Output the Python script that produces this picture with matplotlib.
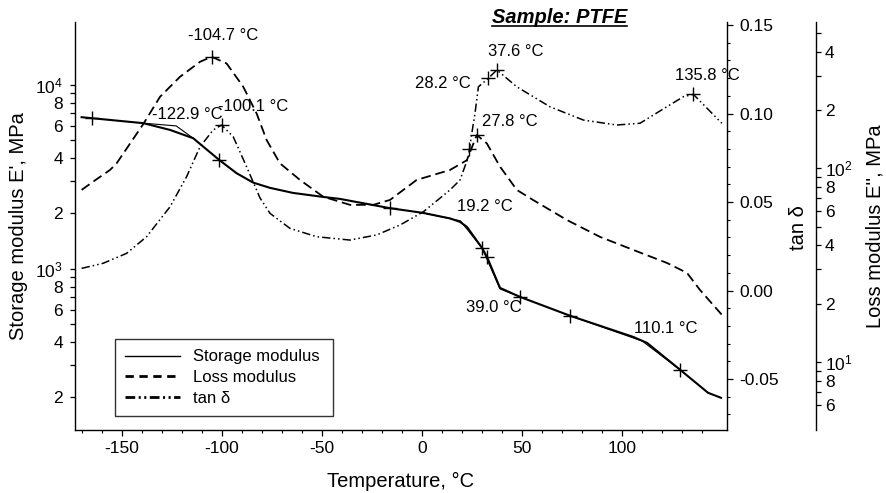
import numpy as np
import matplotlib
matplotlib.use('Agg')
import matplotlib.pyplot as plt
from matplotlib.lines import Line2D
from matplotlib.ticker import FixedLocator, FuncFormatter, MultipleLocator, NullFormatter, FormatStrFormatter

plt.rcParams['font.family'] = ['Liberation Sans', 'DejaVu Sans']
plt.rcParams['mathtext.fontset'] = 'custom'
plt.rcParams['mathtext.rm'] = 'Liberation Sans'
plt.rcParams['mathtext.default'] = 'regular'
plt.rcParams['lines.scale_dashes'] = False
plt.rcParams['axes.unicode_minus'] = False

# === DATA ===
storage_temp = [-170.2, -164.9, -139.4, -126, -114.4, -109.4, -101.4, -92.7, -84.4, -76, -64.5,
                -49.5, -41, -16, 0.5, 14, 19, 22.5, 30, 32.5, 39, 49, 74, 105.5, 112.5, 129, 143, 149.5]
storage_mod = [6675, 6590, 6195, 5693, 5130, 4620, 3910, 3310, 2943, 2756, 2587,
               2461, 2400, 2137, 2015, 1880, 1800, 1690, 1300, 1161, 788, 704, 556, 427, 396, 283, 212, 199]
storage_mark_temp = [-164.9, -101.4, -16, 30, 32.5, 49, 74, 129]
storage_mark_mod = [6590, 3910, 2137, 1300, 1161, 704, 556, 283]

# onset tangent constructions (thin lines)
onset_temp = [[-139.4, -122.9, -114.4], [0.5, 19.2, 30], [30, 39.0, 49], [74, 110.1, 129]]
onset_mod = [[6195, 5985, 5130], [2015, 1824, 1300], [1300, 778, 704], [556, 405, 283]]

loss_temp = [-170.2, -164.4, -156, -152.7, -139.4, -131, -121, -111, -105.2, -97.7, -89.4, -82.7,
             -77.7, -71, -61, -49.4, -36, -24.4, -16, -2.7, 14, 22.4, 27.4, 32.4, 39, 47.4, 55.5,
             72.5, 89, 105.5, 122.5, 132.5, 139, 149.9]
loss_mod = [77.3, 85.3, 98, 106, 169, 234, 297, 355, 377, 348, 264, 192,
            140, 106, 87, 71.3, 64.7, 64.7, 68.6, 87, 98, 110, 148.5, 134.5, 102, 77.3, 68.6,
            54, 44.2, 37.9, 32.4, 28.8, 23.5, 17.5]
loss_mark_temp = [-105.2, 27.4]
loss_mark_mod = [377, 148.5]

tan_temp = [-170.2, -159.4, -147.7, -137.7, -126, -117.7, -111, -104.4, -100.2, -94.4, -87.7, -81,
            -76, -66, -52.7, -36, -22.7, -11, 0.7, 14, 19, 23.2, 24.9, 26.5, 28.2, 33.2, 37.4,
            47.4, 64, 80.7, 97.4, 109, 122.4, 130.7, 135.7, 149.9]
tan_delta = [0.0125, 0.0154, 0.0210, 0.0304, 0.0473, 0.0643, 0.0812, 0.0907, 0.0935, 0.0869, 0.0699, 0.0523,
             0.0436, 0.0351, 0.0304, 0.0285, 0.0314, 0.0370, 0.0445, 0.0568, 0.0624, 0.0756, 0.0888, 0.1001,
             0.1151, 0.1199, 0.1246, 0.1151, 0.1038, 0.0963, 0.0935, 0.0945, 0.1038, 0.1095, 0.1108, 0.0945]
tan_mark_temp = [-100.2, 23.7, 33.2, 37.4, 135.7]
tan_mark_val = [0.0935, 0.0797, 0.1199, 0.1246, 0.1108]

# tick values
temp_ticks = [-150, -100, -50, 0, 50, 100]
temp_minor_ticks = [-170, -160, -140, -130, -120, -110, -90, -80, -70, -60, -40, -30, -20, -10,
                    10, 20, 30, 40, 60, 70, 80, 90, 110, 120, 130, 140]
storage_ticks = [200, 300, 400, 500, 600, 700, 800, 900, 1000, 2000, 3000, 4000, 5000, 6000, 7000, 8000, 9000, 10000]
loss_ticks = [6, 7, 8, 9, 10, 20, 30, 40, 50, 60, 70, 80, 90, 100, 200, 300, 400, 500]

# annotations: label value, which axis, anchor (T, value), offset in px (right, up)
annot_text = [-104.7, -100.1, -122.9, 28.2, 37.6, 27.8, 135.8, 19.2, 39.0, 110.1]
annot_axis = ['loss', 'tan', 'storage', 'tan', 'tan', 'loss', 'tan', 'storage', 'storage', 'storage']
annot_temp = [-105.2, -100.2, -122.9, 28.2, 37.4, 27.4, 135.7, 19.2, 39.0, 110.1]
annot_val = [377, 0.0935, 5985, 0.1151, 0.1246, 148.5, 0.1108, 1824, 778, 405]
annot_dx = [12, 32, 11, -36, 19, 33, 14, 24, -6, 24]
annot_dy = [21, 19, 11, 3, 18, 14, 19, 14, -19, 13]

# === FIGURE ===
W, H = 887, 493
fig = plt.figure(figsize=(W / 100, H / 100), dpi=100)
ax = fig.add_axes([75 / W, 1 - 430 / H, 652 / W, 408 / H])
ax_tan = ax.twinx()
ax_loss = ax.twinx()

lw_s, lw_l, lw_t = 1.5, 1.3, 1.1
dash_l = (7, 3.5)
dash_t = (6, 2.2, 1.1, 2.2, 1.1, 2.2)

ax.plot(storage_temp, storage_mod, color='black', lw=lw_s)
for tt, mm in zip(onset_temp, onset_mod):
    ax.plot(tt, mm, color='black', lw=0.8)
ax.plot(storage_mark_temp, storage_mark_mod, ls='none', marker='+', ms=10, mew=1, color='black')

ax_loss.plot(loss_temp, loss_mod, color='black', lw=lw_l, dashes=dash_l)
ax_loss.plot(loss_mark_temp, loss_mark_mod, ls='none', marker='+', ms=10, mew=1, color='black')

ax_tan.plot(tan_temp, tan_delta, color='black', lw=lw_t, dashes=dash_t)
ax_tan.plot(tan_mark_temp, tan_mark_val, ls='none', marker='+', ms=10, mew=1, color='black')

# === AXES ===
def log_label(v, pos):
    e = int(np.floor(np.log10(v) + 1e-9))
    m = int(round(v / 10 ** e))
    if m == 1:
        return r'$10^{%d}$' % e
    if m in (2, 4, 6, 8):
        return str(m)
    return ''

ax.set_xlim(-173.5, 152.5)
ax.xaxis.set_major_locator(FixedLocator(temp_ticks))
ax.xaxis.set_minor_locator(FixedLocator(temp_minor_ticks))

ax.set_yscale('log')
ax.set_ylim(133, 21980)
ax_loss.set_yscale('log')
ax_loss.set_ylim(4.44, 570)
for a, ticks in ((ax, storage_ticks), (ax_loss, loss_ticks)):
    a.yaxis.set_major_locator(FixedLocator(ticks))
    a.yaxis.set_major_formatter(FuncFormatter(log_label))
    a.yaxis.set_minor_locator(FixedLocator([]))
    a.yaxis.set_minor_formatter(NullFormatter())

ax_tan.set_ylim(-0.0788, 0.1517)
ax_tan.yaxis.set_major_locator(MultipleLocator(0.05))
ax_tan.yaxis.set_minor_locator(MultipleLocator(0.01))
ax_tan.yaxis.set_major_formatter(FormatStrFormatter('%.2f'))

for a in (ax, ax_tan, ax_loss):
    a.spines['top'].set_visible(False)
    for s in a.spines.values():
        s.set_linewidth(1.0)
ax.spines['right'].set_visible(False)
ax_tan.spines['left'].set_visible(False)
ax_tan.spines['bottom'].set_visible(False)
ax_loss.spines['left'].set_visible(False)
ax_loss.spines['bottom'].set_visible(False)
ax_loss.spines['right'].set_position(('axes', (816 - 75) / 652))

ax.tick_params(axis='both', which='major', direction='out', length=4, width=0.9, labelsize=12.5, pad=4)
ax.tick_params(axis='both', which='minor', direction='out', length=2.5, width=0.8)
ax.tick_params(axis='y', which='major', length=3.5, pad=5)
ax_tan.tick_params(which='major', direction='out', length=4, width=0.9, labelsize=12.5, pad=5)
ax_tan.tick_params(which='minor', direction='out', length=2.5, width=0.8)
ax_loss.tick_params(which='major', direction='out', length=3.5, width=0.9, labelsize=12.5, pad=3)

ax.set_xlabel('Temperature, °C', fontsize=14.5, va='center')
ax.xaxis.set_label_coords(0.5, -0.125)
ax.set_ylabel("Storage modulus E', MPa", fontsize=14.5, va='center')
ax.yaxis.set_label_coords(-0.087, 0.5)
ax_tan.set_ylabel('tan δ', fontsize=14.5, va='center')
ax_tan.yaxis.set_label_coords(1.110, 0.495)
ax_loss.set_ylabel("Loss modulus E'', MPa", fontsize=14.5, va='center')
ax_loss.yaxis.set_label_coords(1.227, 0.5)

# === ANNOTATIONS ===
axes_map = {'storage': ax, 'loss': ax_loss, 'tan': ax_tan}
for v, key, t, y, dx, dy in zip(annot_text, annot_axis, annot_temp, annot_val, annot_dx, annot_dy):
    axes_map[key].annotate(f"{v:.1f} °C", xy=(t, y), xytext=(dx * 0.72, dy * 0.72),
                           textcoords='offset points', ha='center', va='center', fontsize=12)

# === LEGEND ===
handles = [
    Line2D([0], [0], color='black', lw=1.0),
    Line2D([0], [0], color='black', lw=2.0, dashes=(6, 4)),
    Line2D([0], [0], color='black', lw=2.0, dashes=(7, 2.5, 1.5, 2.5, 1.5, 2.5)),
]
leg = ax_loss.legend(handles, ['Storage modulus', 'Loss modulus', 'tan δ'],
                     loc='lower left', bbox_to_anchor=(40 / 652, 14 / 408, 218 / 652, 89 / 408),
                     mode='expand', borderaxespad=0, fontsize=12, handlelength=3.3,
                     handletextpad=0.8, labelspacing=0.35, borderpad=0.6, fancybox=False)
leg.get_frame().set_edgecolor('black')
leg.get_frame().set_linewidth(1.0)

# === TITLE (bold italic, underlined) ===
title = fig.text(559.5 / W, 1 - 23 / H, 'Sample: PTFE', ha='center', va='baseline',
                 fontsize=14.5, fontweight='bold', fontstyle='italic')
fig.canvas.draw()
bb = title.get_window_extent()
uy = 1 - 25.5 / H
fig.add_artist(Line2D([bb.x0 / W, bb.x1 / W], [uy, uy], transform=fig.transFigure, color='black', lw=1.2))

fig.savefig('out.png', dpi=100)
